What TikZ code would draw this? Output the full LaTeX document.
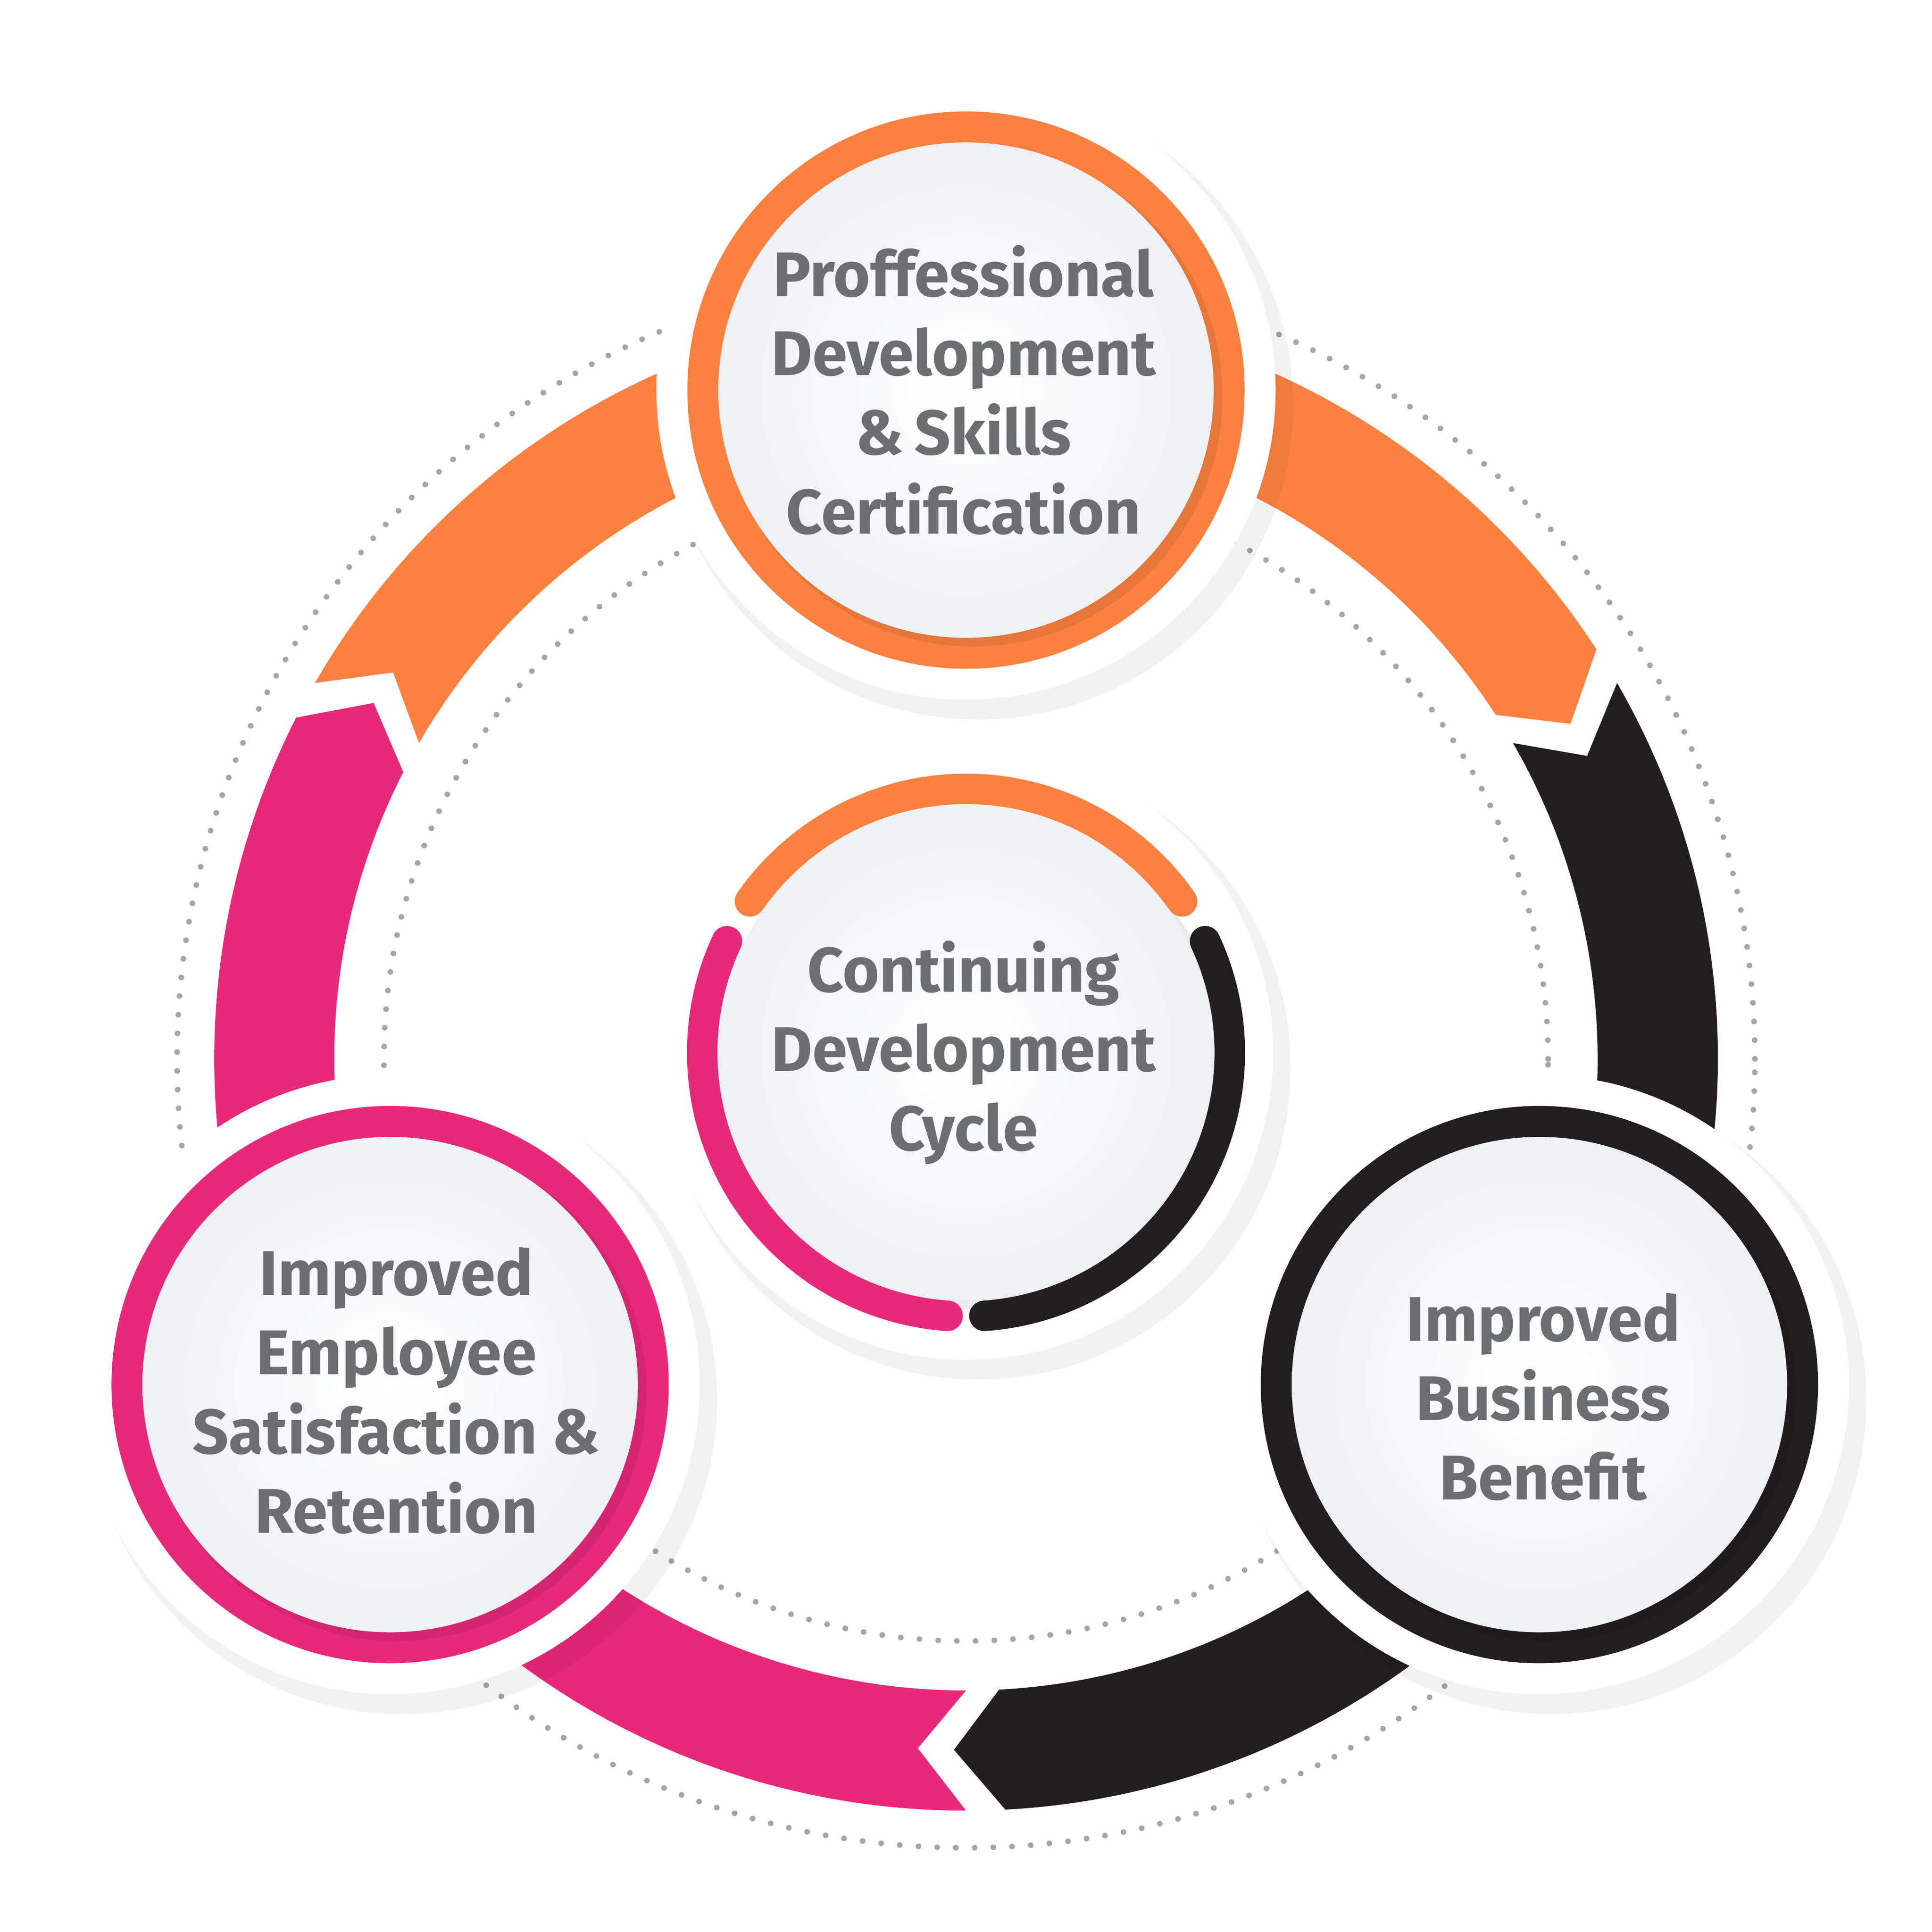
\documentclass[tikz,border=0pt]{standalone}
\usepackage{fontspec}
\usetikzlibrary{calc}
\setmainfont{Fira Sans}
\definecolor{org}{HTML}{FB8140}
\definecolor{pnk}{HTML}{E8297A}
\definecolor{blk}{HTML}{231F20}
\definecolor{txt}{HTML}{6D6E71}
\definecolor{face}{HTML}{EEF0F3}
\begin{document}
\begin{tikzpicture}[x=0.01cm,y=0.01cm,
  lbl/.style={text=txt,font=\fontsize{14.5}{18.2}\selectfont\bfseries,align=center},
  dots/.style={gray!70,line width=1.3pt,dash pattern=on 0pt off 4.3pt,line cap=round},
  neck/.style={white,line width=14pt}]
\useasboundingbox (0,0) rectangle (1560,1560);
\fill[white] (0,0) rectangle (1560,1560);
\coordinate (C) at (780,705);
\draw[dots] (C) circle (637);
\draw[dots] (C) circle (470);
% ring segments
\foreach \A/\B/\col in {150/33/org, 30/-87/blk, -90/-207/pnk}{
  \pgfmathsetmacro\An{\A-4}\pgfmathsetmacro\Bt{\B-4}
  \fill[\col] ($(C)+(\A:607)$) arc[start angle=\A,end angle=\B,radius=607]
    -- ($(C)+(\Bt:558)$) -- ($(C)+(\B:510)$)
    arc[start angle=\B,end angle=\A,radius=510] -- ($(C)+(\An:558)$) -- cycle;
}
\coordinate (T) at (780,1245);
\coordinate (M) at (780,710);
\coordinate (L) at (315,442);
\coordinate (R) at (1243,442);
\draw[neck] (T) -- (M); \draw[neck] (M) -- (L); \draw[neck] (M) -- (R);
% circles
\foreach \p/\col in {T/org, L/pnk, R/blk}{
  \fill[black,opacity=0.05] ($(\p)+(10,-12)$) circle (254);
  \fill[white] (\p) circle (250);
  \fill[\col] (\p) circle (225);
  \fill[black,opacity=0.08] ($(\p)+(5,-5)$) circle (202);
  \shade[inner color=white,outer color=face] (\p) circle (200);
}
\fill[black,opacity=0.05] ($(M)+(10,-12)$) circle (252);
\fill[white] (M) circle (248);
\fill[black,opacity=0.08] ($(M)+(5,-5)$) circle (202);
\shade[inner color=white,outer color=face] (M) circle (200);
\begin{scope}[line width=7pt,line cap=round]
\draw[org] ($(M)+(145:213)$) arc[start angle=145,end angle=35,radius=213];
\draw[pnk] ($(M)+(155:213)$) arc[start angle=155,end angle=266,radius=213];
\draw[blk] ($(M)+(274:213)$) arc[start angle=274,end angle=385,radius=213];
\end{scope}
\node[lbl] (tT) at ($(T)+(-2,0)$) {Proffessional\\Development\\\&\,Skills\\Certification};
\node[lbl] (tM) at ($(M)+(-2,0)$) {Continuing\\Development\\Cycle};
\node[lbl] (tL) at ($(L)+(5,-5)$) {Improved\\Employee\\Satisfaction \&\\Retention};
\node[lbl] (tR) at ($(R)+(3,-10)$) {Improved\\Business\\Benefit};
\end{tikzpicture}
\end{document}
